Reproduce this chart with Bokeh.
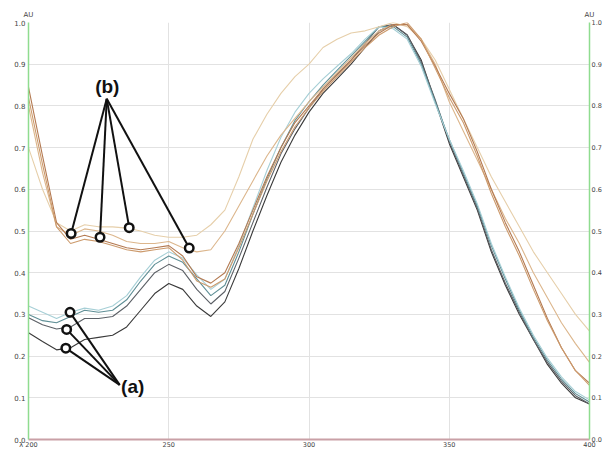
from bokeh.plotting import figure
from bokeh.models import LinearAxis, Range1d, FixedTicker, CustomJSTickFormatter
from bokeh.core.properties import value
from bokeh.embed import file_html
from bokeh.resources import INLINE

# wavelength grid (nm)
wl = [200, 205, 210, 215, 220, 225, 230, 235, 240, 245, 250, 255, 260, 265, 270,
      275, 280, 285, 290, 295, 300, 305, 310, 315, 320, 325, 330, 335, 340, 345,
      350, 355, 360, 365, 370, 375, 380, 385, 390, 395, 400]

# group (a)
a_black = [0.256, 0.235, 0.215, 0.22, 0.24, 0.245, 0.25, 0.27, 0.31, 0.35, 0.374, 0.36, 0.32, 0.295, 0.33,
           0.41, 0.50, 0.585, 0.665, 0.73, 0.785, 0.83, 0.865, 0.90, 0.94, 0.98, 0.995, 0.97, 0.91, 0.81,
           0.71, 0.63, 0.55, 0.45, 0.37, 0.30, 0.24, 0.18, 0.135, 0.10, 0.085]
a_gray = [0.292, 0.275, 0.265, 0.27, 0.29, 0.29, 0.295, 0.32, 0.36, 0.40, 0.42, 0.405, 0.36, 0.325, 0.355,
          0.435, 0.52, 0.605, 0.685, 0.745, 0.795, 0.84, 0.875, 0.91, 0.95, 0.99, 0.995, 0.97, 0.905, 0.815,
          0.715, 0.635, 0.555, 0.455, 0.375, 0.305, 0.24, 0.185, 0.14, 0.105, 0.085]
a_teal = [0.30, 0.285, 0.28, 0.295, 0.31, 0.305, 0.31, 0.335, 0.38, 0.42, 0.44, 0.425, 0.385, 0.345, 0.37,
          0.45, 0.54, 0.625, 0.70, 0.765, 0.81, 0.85, 0.885, 0.92, 0.955, 0.99, 0.99, 0.965, 0.90, 0.81,
          0.72, 0.64, 0.56, 0.465, 0.385, 0.31, 0.245, 0.19, 0.145, 0.11, 0.09]
a_blue = [0.32, 0.305, 0.29, 0.305, 0.315, 0.31, 0.32, 0.345, 0.39, 0.43, 0.45, 0.435, 0.395, 0.36, 0.385,
          0.465, 0.555, 0.645, 0.725, 0.785, 0.83, 0.865, 0.895, 0.925, 0.96, 0.99, 0.985, 0.96, 0.895, 0.805,
          0.72, 0.645, 0.565, 0.47, 0.39, 0.315, 0.25, 0.195, 0.15, 0.115, 0.095]

# group (b)
b_light = [0.70, 0.60, 0.52, 0.50, 0.515, 0.51, 0.51, 0.507, 0.50, 0.49, 0.485, 0.485, 0.49, 0.515, 0.55,
           0.63, 0.72, 0.78, 0.83, 0.87, 0.90, 0.94, 0.96, 0.975, 0.98, 0.99, 1.0, 0.99, 0.96, 0.91,
           0.84, 0.77, 0.70, 0.63, 0.57, 0.51, 0.45, 0.40, 0.35, 0.30, 0.26]
b_tan = [0.80, 0.64, 0.51, 0.49, 0.505, 0.50, 0.49, 0.475, 0.47, 0.47, 0.475, 0.46, 0.45, 0.455, 0.50,
         0.56, 0.62, 0.68, 0.73, 0.77, 0.81, 0.845, 0.88, 0.915, 0.95, 0.98, 0.995, 0.995, 0.96, 0.90,
         0.81, 0.74, 0.67, 0.60, 0.53, 0.47, 0.40, 0.34, 0.28, 0.23, 0.185]
b_brown = [0.845, 0.68, 0.52, 0.48, 0.49, 0.48, 0.47, 0.46, 0.455, 0.46, 0.465, 0.44, 0.39, 0.375, 0.40,
           0.47, 0.55, 0.63, 0.70, 0.76, 0.80, 0.84, 0.875, 0.91, 0.945, 0.975, 0.995, 0.995, 0.955, 0.895,
           0.83, 0.77, 0.69, 0.60, 0.52, 0.45, 0.37, 0.29, 0.22, 0.165, 0.135]
b_orange = [0.82, 0.66, 0.51, 0.47, 0.48, 0.475, 0.465, 0.455, 0.45, 0.455, 0.46, 0.43, 0.38, 0.365, 0.385,
            0.46, 0.54, 0.62, 0.69, 0.75, 0.795, 0.835, 0.87, 0.905, 0.94, 0.97, 0.99, 1.0, 0.96, 0.89,
            0.82, 0.76, 0.68, 0.59, 0.51, 0.44, 0.36, 0.285, 0.22, 0.165, 0.13]

series = [a_black, a_gray, a_teal, a_blue, b_light, b_tan, b_brown, b_orange]
colors = ["#3a3a3a", "#5c6066", "#5f8f96", "#a6cfd6", "#e6cfaa", "#dcb68c", "#b47a52", "#cc9a6c"]

# axis ticks
y_ticks = [0.0, 0.1, 0.2, 0.3, 0.4, 0.5, 0.6, 0.7, 0.8, 0.9, 1.0]
x_ticks = [200, 250, 300, 350, 400]
x_grid = [250, 300, 350]
unit_ticks = [200, 400]
unit_labels = {200: "AU", 400: "AU"}

# annotation markers (wavelength, absorbance)
b_circ_x = [215.2, 225.5, 235.9, 257.3]
b_circ_y = [0.494, 0.485, 0.508, 0.459]
b_apex = (227.9, 0.817)
b_text = (228.1, 0.847)
a_circ_x = [214.8, 213.6, 213.3]
a_circ_y = [0.305, 0.264, 0.219]
a_apex = (232.5, 0.131)
a_text = (233.0, 0.127)

p = figure(width=604, height=451, x_range=Range1d(200, 400), y_range=Range1d(0, 1),
           output_backend="svg", toolbar_location=None, y_axis_location="left")
p.min_border_left = 28
p.min_border_right = 11
p.min_border_top = 22
p.min_border_bottom = 9
p.outline_line_color = None
p.background_fill_color = "white"

fmt = CustomJSTickFormatter(code="return tick.toFixed(1);")
label_font = "DejaVu Sans"


def style_axis(ax, size="7px", standoff=2):
    ax.major_tick_line_color = None
    ax.minor_tick_line_color = None
    ax.major_tick_out = 0
    ax.major_tick_in = 0
    ax.minor_tick_out = 0
    ax.minor_tick_in = 0
    ax.axis_label_standoff = 0
    ax.major_label_text_font_size = size
    ax.major_label_text_font = label_font
    ax.major_label_text_color = "#444444"
    ax.major_label_standoff = standoff


for ax in p.yaxis:
    ax.ticker = FixedTicker(ticks=y_ticks)
    ax.formatter = fmt
ra = LinearAxis(ticker=FixedTicker(ticks=y_ticks), formatter=fmt)
p.add_layout(ra, "right")

style_axis(p.yaxis[0], "7px", 3)
style_axis(ra, "6.5px", 2)
for ax in [p.yaxis[0], ra]:
    ax.axis_line_color = "#8fdc8f"
    ax.axis_line_width = 1.5

xa = p.xaxis[0]
xa.ticker = FixedTicker(ticks=x_ticks)
xa.major_label_overrides = {200: "λ 200"}
style_axis(xa, "6.5px", 1)
xa.axis_line_color = "#c9a0a6"
xa.axis_line_width = 2

ta = LinearAxis(ticker=FixedTicker(ticks=unit_ticks), major_label_overrides=unit_labels)
style_axis(ta, "7px", 4)
ta.axis_line_color = None
p.add_layout(ta, "above")

p.xgrid.ticker = FixedTicker(ticks=x_grid)
p.ygrid.ticker = FixedTicker(ticks=y_ticks[1:])
p.xgrid.grid_line_color = "#e2e2e2"
p.ygrid.grid_line_color = "#e2e2e2"

for ys, c in zip(series, colors):
    p.line(wl, ys, line_color=c, line_width=1.1)

# annotation lines
p.segment(x0=[b_apex[0]] * len(b_circ_x), y0=[b_apex[1]] * len(b_circ_x), x1=b_circ_x, y1=b_circ_y,
          line_color="#111111", line_width=2)
p.segment(x0=[a_apex[0]] * len(a_circ_x), y0=[a_apex[1]] * len(a_circ_x), x1=a_circ_x, y1=a_circ_y,
          line_color="#111111", line_width=2)
p.scatter(b_circ_x + a_circ_x, b_circ_y + a_circ_y, marker="circle", size=8.5,
          fill_color="white", line_color="#111111", line_width=2.5)

p.text(x=[b_text[0]], y=[b_text[1]], text=["(b)"], text_align="center", text_baseline="middle",
       text_font=value("Liberation Sans"), text_font_style="bold", text_font_size="19px", text_color="#111111")
p.text(x=[a_text[0]], y=[a_text[1]], text=["(a)"], text_align="left", text_baseline="middle",
       text_font=value("Liberation Sans"), text_font_style="bold", text_font_size="19px", text_color="#111111")

open("out.html", "w").write(file_html(p, INLINE))
